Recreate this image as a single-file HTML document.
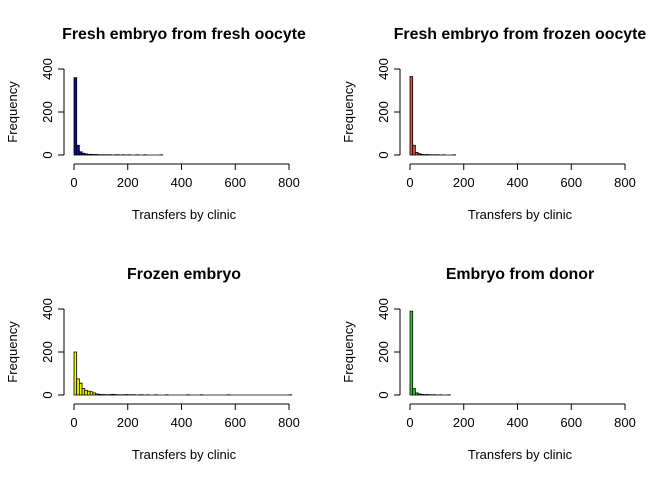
<!DOCTYPE html>
<html><head><meta charset="utf-8"><style>
html,body{margin:0;padding:0;background:#fff;}
svg{display:block;font-family:"Liberation Sans",sans-serif;}
</style></head><body>
<svg id="c" width="672" height="480"></svg>
<script>
const titles=["Fresh embryo from fresh oocyte","Fresh embryo from frozen oocyte","Frozen embryo","Embryo from donor"];
const fills=["#0a0a9c","#d8553a","#f2f200","#2ecc2e"];
const countsFreshFresh=[360,45,15,8,5,3,3,2,2,1,1,1,1,1,0,1,1,0,1,0,1,0,0,1,0,0,1,0,0,0,0,0,1];
const countsFreshFrozen=[365,45,12,6,3,2,2,1,1,1,1,0,1,0,0,0,1];
const countsFrozen=[200,75,55,30,22,18,15,10,5,3,2,2,1,2,3,2,1,1,1,2,1,1,1,0,1,1,0,1,0,0,1,0,0,0,1,0,0,0,0,0,0,0,1,0,0,0,0,1,0,0,0,0,0,0,0,0,0,1,0,0,0,0,0,0,0,0,0,0,0,0,0,0,0,0,0,0,0,0,0,0,1];
const countsDonor=[390,30,10,5,3,2,2,1,1,1,0,1,0,0,1];
const series=[countsFreshFresh,countsFreshFrozen,countsFrozen,countsDonor];
const xTicks=[0,200,400,600,800];
const yTicks=[0,200,400];
const binWidth=10;
const NS="http://www.w3.org/2000/svg";
const svg=document.getElementById('c');
function mk(tag,attrs,parent){const e=document.createElementNS(NS,tag);for(const k in attrs)e.setAttribute(k,attrs[k]);(parent||svg).appendChild(e);return e;}
for(let p=0;p<4;p++){
  const ox=(p%2)*336, oy=Math.floor(p/2)*240;
  const g=mk('g',{});
  
  
  const sx=v=>ox+74+v*(215/800);
  const sy=v=>oy+155-v*(86/400);
  const t=mk('text',{x:ox+184,y:oy+39,'text-anchor':'middle','font-size':'15.9','font-weight':'bold'},g);
  t.textContent=titles[p];
  
  
  const cs=series[p];
  for(let i=0;i<cs.length;i++){
    const x0=sx(i*binWidth),x1=sx((i+1)*binWidth),y0=sy(0),y1=sy(cs[i]);
    const r=mk('path',{d:`M${x0},${y0}V${y1}H${x1}V${y0}Z`,fill:fills[p],stroke:'#000','stroke-width':'0.8'},g);
    
    
  }
  const xa=mk('g',{},g);
  
  
  const ay=oy+164;
  mk('line',{x1:sx(0),x2:sx(800),y1:ay,y2:ay,stroke:'#000'},xa);
  xTicks.forEach(v=>{mk('line',{x1:sx(v),x2:sx(v),y1:ay,y2:ay+6,stroke:'#000'},xa);
    const tt=mk('text',{x:sx(v),y:ay+23,'text-anchor':'middle','font-size':'13'},xa);tt.textContent=v;});
  const xl=mk('text',{x:ox+184,y:oy+219,'text-anchor':'middle','font-size':'13'},g);
  xl.textContent='Transfers by clinic';
  
  
  const ya=mk('g',{},g);
  
  
  const ax=ox+64;
  mk('line',{x1:ax,x2:ax,y1:sy(0),y2:sy(400),stroke:'#000'},ya);
  yTicks.forEach(v=>{mk('line',{x1:ax-6,x2:ax,y1:sy(v),y2:sy(v),stroke:'#000'},ya);
    const tt=mk('text',{x:ax-12,y:sy(v),'text-anchor':'middle','font-size':'13',transform:`rotate(-90 ${ax-12} ${sy(v)})`},ya);tt.textContent=v;});
  const yl=mk('text',{x:ox+17,y:oy+112,'text-anchor':'middle','font-size':'13',transform:`rotate(-90 ${ox+17} ${oy+112})`},g);
  yl.textContent='Frequency';
  
  
}
</script>
</body></html>
